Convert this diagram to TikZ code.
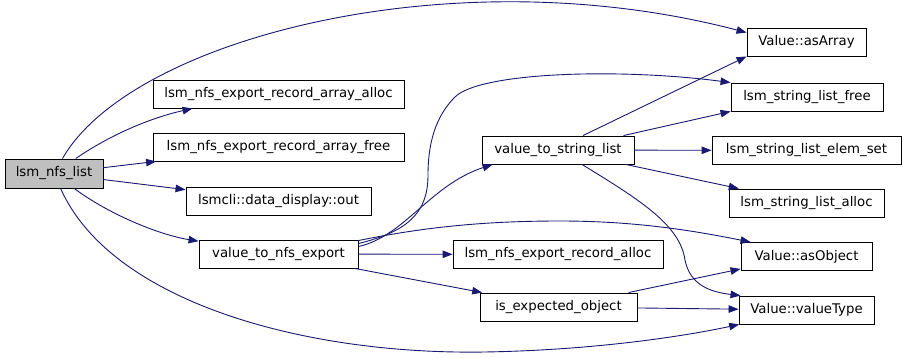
\documentclass[tikz,border=0pt]{standalone}
\usepackage{fontspec}
\setmainfont{DejaVu Sans}
\usepackage{tikz}
\usetikzlibrary{arrows.meta}
\definecolor{edgeblue}{HTML}{191970}
\definecolor{rootgray}{HTML}{BFBFBF}

\begin{document}
\begin{tikzpicture}[x=1pt,y=-1pt,baseline,
	fn/.style={draw=black,line width=0.9pt,inner sep=0pt,minimum height=28pt,font=\fontsize{13.3}{16}\selectfont},
	call/.style={draw=edgeblue,line width=0.9pt,-{Triangle[length=10pt,width=7.5pt]}}]
		\useasboundingbox (0,0) rectangle (907,358);
		\node (lsm) at (54,173.5) [fn,minimum width=98pt,minimum height=29pt,fill=rootgray] {lsm\_nfs\_list};
		\node (recArrAlloc) at (278.5,94) [fn,minimum width=251pt] {lsm\_nfs\_export\_record\_array\_alloc};
		\node (recArrFree) at (278.5,147) [fn,minimum width=251pt] {lsm\_nfs\_export\_record\_array\_free};
		\node (dispOut) at (278.5,201) [fn,minimum width=185pt] {lsmcli::data\_display::out};
		\node (toNfs) at (278.5,254) [fn,minimum width=159pt] {value\_to\_nfs\_export};
		\node (toStrList) at (558,150) [fn,minimum width=152pt] {value\_to\_string\_list};
		\node (recAlloc) at (558,254.5) [fn,minimum width=210pt] {lsm\_nfs\_export\_record\_alloc};
		\node (isExp) at (558.5,307) [fn,minimum width=157pt] {is\_expected\_object};
		\node (asArray) at (806.5,42) [fn,minimum width=119pt] {Value::asArray};
		\node (slFree) at (807,97) [fn,minimum width=152pt] {lsm\_string\_list\_free};
		\node (slElem) at (806.5,150.5) [fn,minimum width=189pt] {lsm\_string\_list\_elem\_set};
		\node (slAlloc) at (806.5,203) [fn,minimum width=155pt] {lsm\_string\_list\_alloc};
		\node (asObject) at (806.5,256.5) [fn,minimum width=131pt] {Value::asObject};
		\node (valueType) at (806.5,310) [fn,minimum width=135pt] {Value::valueType};
		% calls made by lsm_nfs_list
		\draw [call] (lsm) .. controls (130,40) and (450,-45) .. ([yshift=-5pt]asArray.north west);
		\draw [call] (lsm) .. controls (110,135) and (150,118) .. ([xshift=40pt]recArrAlloc.south west);
		\draw [call] (lsm) -- (recArrFree);
		\draw [call] (lsm) -- (dispOut);
		\draw [call] (lsm) .. controls (110,215) and (160,235) .. (toNfs);
		\draw [call] (lsm) .. controls (110,300) and (300,355) .. (485,352) .. controls (600,350) and (690,335) .. (valueType);
		% value_to_nfs_export
		\draw [call] ([yshift=-1pt]toNfs.north east) .. controls (420,228) and (480,221) .. (560,221) .. controls (640,221) and (700,232) .. ([xshift=10pt]asObject.north west);
		\draw [call] ([yshift=-4pt]toNfs.north east) .. controls (405,232) and (428,215) .. (428,175) .. controls (428,135) and (440,112) .. (455,97) .. controls (480,72) and (620,68) .. (slFree.north west);
		\draw [call] ([yshift=-7pt]toNfs.north east) .. controls (405,236) and (430,185) .. ([xshift=11pt]toStrList.south west);
		\draw [call] (toNfs) -- (recAlloc);
		\draw [call] (toNfs) -- (isExp);
		% value_to_string_list
		\draw [call] ([xshift=25pt]toStrList.north) -- (asArray.south west);
		\draw [call] ([xshift=-11pt]toStrList.north east) -- (slFree.south west);
		\draw [call] (toStrList) -- (slElem);
		\draw [call] (toStrList) -- (slAlloc);
		\draw [call] ([xshift=24pt]toStrList.south) .. controls (640,200) and (680,225) .. (685,260) .. controls (690,285) and (710,292) .. ([xshift=2pt]valueType.north west);
		% is_expected_object
		\draw [call] ([xshift=-9pt]isExp.north east) -- ([yshift=2pt]asObject.south west);
		\draw [call] (isExp) -- (valueType);
    \end{tikzpicture}
\end{document}
